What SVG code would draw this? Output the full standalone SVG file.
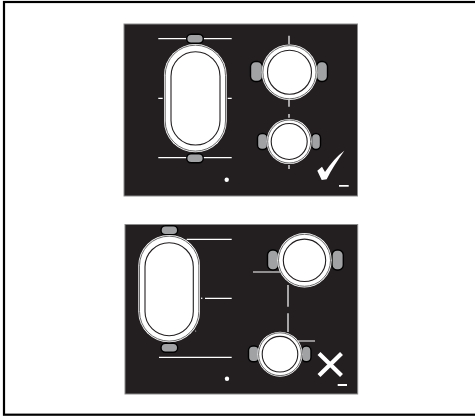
<svg xmlns="http://www.w3.org/2000/svg" width="475" height="417" viewBox="0 0 475 417">
<style>
.panel{fill:#231f20;stroke:#8a8a8a;stroke-width:1}
.l{stroke:#fff;stroke-width:1.200;fill:none}
.seat{fill:#a0a2a4;stroke:#000;stroke-width:1.400}
.t0{fill:#fff;stroke:none}
.t2{fill:#fff;stroke:#444;stroke-width:.8}
.t1{fill:#fff;stroke:#231f20;stroke-width:1.100}
.d{fill:#fff}
</style>
<rect x="0" y="0" width="475" height="417" fill="#fff"/>
<rect x="4" y="2" width="473" height="412.700" fill="none" stroke="#000" stroke-width="2.200"/>
<g id="panel-top">
<rect class="panel" x="124" y="24" width="233.500" height="172"/>
<path class="l" d="M158.300 38.700H188M203 38.700H231.700M158.300 157.700H188M203 157.700H231.700M158.300 98.300H162.700M227.700 98.300H231.700M289 35.700V44M289 100V106.700M289 114V117.700M289 165V169"/>
<g id="top-oval">
<rect class="seat" x="186.700" y="34.300" width="16.600" height="9" rx="4.500"/>
<rect class="seat" x="186.700" y="153.700" width="16.600" height="9" rx="4.500"/>
<rect class="t0" x="164" y="44" width="62.700" height="108.300" rx="31.300"/>
<rect class="t2" x="165.200" y="45.200" width="60.300" height="105.900" rx="30.100"/>
<rect class="t1" x="171" y="51.700" width="49" height="93.300" rx="24.500"/>
</g>
<g id="top-c1">
<rect class="seat" x="250.500" y="61.500" width="12" height="20" rx="5"/>
<rect class="seat" x="316.500" y="61.500" width="11" height="20" rx="5"/>
<circle class="t0" cx="289.500" cy="72.200" r="27.800"/>
<circle class="t2" cx="289.500" cy="72.200" r="26.600"/>
<circle class="t1" cx="289.500" cy="72.200" r="22"/>
</g>
<g id="top-c2">
<rect class="seat" x="257.500" y="133.500" width="10" height="16" rx="4.500"/>
<rect class="seat" x="311.500" y="133.500" width="9" height="16" rx="4.500"/>
<circle class="t0" cx="289.200" cy="141.500" r="22.600"/>
<circle class="t2" cx="289.200" cy="141.500" r="21.500"/>
<circle class="t1" cx="289.200" cy="141.500" r="18"/>
</g>
<circle class="d" cx="226.700" cy="179.700" r="2.200"/>
<path class="d" d="M317.300 170.700L322 166.700L325 172C331 163 337 156 344.300 150.700C338 160 331 170 326.700 179.300L321.700 180Z"/>
<rect class="d" x="339" y="185" width="9.700" height="1.700"/>
</g>
<g id="panel-bottom">
<rect class="panel" x="125" y="224.500" width="232.700" height="169.500"/>
<path class="l" d="M186.700 239.300H231.700M205 298.300H231.700M159 357.300H231.700M253 272H280M298 341H315M288 285V306.700M288 313.300V332"/>
<g id="bottom-oval">
<rect class="seat" x="161" y="225.700" width="16.700" height="9" rx="4.500"/>
<rect class="seat" x="161" y="343.300" width="16.700" height="9" rx="4.500"/>
<rect class="t0" x="138.300" y="235" width="61.700" height="107.300" rx="30.800"/>
<rect class="t2" x="139.500" y="236.200" width="59.300" height="104.900" rx="29.600"/>
<rect class="t1" x="145" y="242.700" width="48.300" height="93" rx="24.100"/>
<circle class="d" cx="201.700" cy="298.300" r=".8"/>
<circle class="d" cx="195.700" cy="331" r=".5"/>
</g>
<g id="bottom-c1">
<rect class="seat" x="267.500" y="250" width="11" height="20" rx="5"/>
<rect class="seat" x="332" y="250" width="11.300" height="20" rx="5"/>
<circle class="t0" cx="304.500" cy="260.300" r="27.200"/>
<circle class="t2" cx="304.500" cy="260.300" r="26"/>
<circle class="t1" cx="304.500" cy="260.300" r="21.200"/>
</g>
<g id="bottom-c2">
<rect class="seat" x="248.500" y="346" width="10.500" height="15.700" rx="4.500"/>
<rect class="seat" x="301.700" y="346" width="9.300" height="15.700" rx="4.500"/>
<circle class="t0" cx="280" cy="354.200" r="22.500"/>
<circle class="t2" cx="280" cy="354.200" r="21.400"/>
<circle class="t1" cx="280" cy="354.200" r="17.800"/>
</g>
<circle class="d" cx="227" cy="378.700" r="2.200"/>
<path d="M319 353.500L341.500 375.500M341.500 353.500L319 375.500" stroke="#fff" stroke-width="4.200" fill="none"/>
<rect class="d" x="337.700" y="384" width="9.300" height="2"/>
</g>
</svg>
